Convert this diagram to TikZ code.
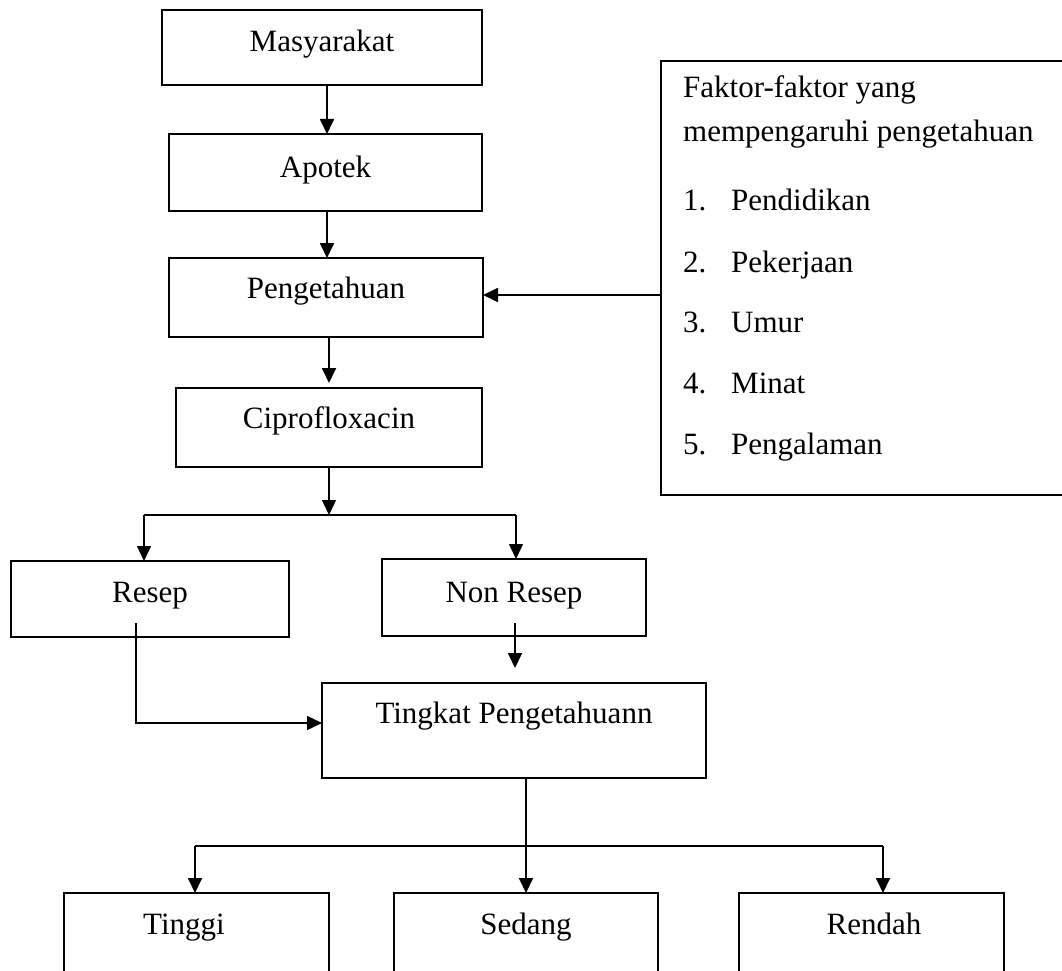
\documentclass[tikz,border=0pt]{standalone}
\usepackage{fontspec}
\setmainfont{Liberation Serif}
\usetikzlibrary{arrows.meta}
\begin{document}
\begin{tikzpicture}[x=1pt,y=-1pt,
  font=\fontsize{31}{37}\selectfont,
  box/.style={draw,line width=2.6pt,inner xsep=0pt,inner ysep=0pt,outer sep=0pt,anchor=north},
  conn/.style={line width=1.8pt,-{Triangle[width=14pt,length=15pt]}},
  thinconn/.style={line width=1.4pt,-{Triangle[width=14pt,length=15pt]}},
  thinline/.style={line width=1.4pt},
  midline/.style={line width=1.8pt},
  txt/.style={anchor=base west,inner sep=0pt}]
\useasboundingbox (0,0) rectangle (1062,971);

% boxes
\node[box,minimum width=320pt,text height=42pt,text depth=33pt] (mas) at (322,10) {Masyarakat};
\node[box,minimum width=313pt,text height=43pt,text depth=34pt] (apo) at (325.5,134) {Apotek};
\node[box,minimum width=314pt,text height=40pt,text depth=39pt] (pen) at (326,258) {Pengetahuan};
\node[box,minimum width=306pt,text height=40pt,text depth=39pt] (cip) at (329,388) {Ciprofloxacin};
\node[box,minimum width=278pt,text height=41pt,text depth=35pt] (res) at (150,561) {Resep};
\node[box,minimum width=264pt,text height=43pt,text depth=34pt] (non) at (514,559) {Non Resep};
\node[box,minimum width=384pt,text height=40pt,text depth=55pt] (tin) at (514,683) {Tingkat Pengetahuann};
\node[box,minimum width=265pt,text height=41pt,text depth=50pt] (tg) at (196.5,893) {Tinggi\hspace*{25pt}};
\node[box,minimum width=264pt,text height=41pt,text depth=50pt] (sd) at (526,893) {Sedang};
\node[box,minimum width=265pt,text height=41pt,text depth=50pt] (rd) at (871.5,893) {\hspace*{5pt}Rendah};

% factor box
\node[box,anchor=north west,minimum width=420pt,minimum height=434pt] (fak) at (661,61) {};
\node[txt] (f1) at (683,98) {Faktor-faktor yang};
\node[txt] (f2) at (683,142) {mempengaruhi pengetahuan};
\node[txt] (n1) at (683,210) {1.};
\node[txt] (i1) at (731,210) {Pendidikan};
\node[txt] (n2) at (683,272) {2.};
\node[txt] (i2) at (731,272) {Pekerjaan};
\node[txt] (n3) at (683,332) {3.};
\node[txt] (i3) at (731,332) {Umur};
\node[txt] (n4) at (683,393) {4.};
\node[txt] (i4) at (731,393) {Minat};
\node[txt] (n5) at (683,454) {5.};
\node[txt] (i5) at (731,454) {Pengalaman};

% connectors
\draw[conn] ([xshift=5pt]mas.south) -- ([xshift=1.5pt]apo.north);
\draw[conn] ([xshift=1.5pt]apo.south) -- ([xshift=1pt]pen.north);
\draw[conn] (pen.south -| cip.north) -- ([yshift=5pt]cip.north);
\draw[conn] ([yshift=2.5pt]pen.east -| fak.west) -- ([yshift=2.5pt]pen.east);

\coordinate (s0) at (329,515);
\coordinate (sL) at (144,515);
\coordinate (sR) at (516,515);
\draw[thinconn] (cip.south) -- (s0);
\draw[thinline] (sL) -- (sR);
\draw[thinconn] (sL) -- (sL |- res.north);
\draw[thinconn] (sR) -- (sR |- non.north);

\coordinate (r0) at (136,623);
\coordinate (r1) at (136,723);
\draw[thinconn] (r0) -- (r1) -- (r1 -| tin.west);

\coordinate (q0) at (515,623);
\coordinate (q1) at (515,668);
\draw[conn] (q0) -- (q1);

\coordinate (bL) at (195,846);
\coordinate (bR) at (883,846);
\draw[conn] (tin.south -| sd.north) -- (sd.north);
\draw[midline] (bL) -- (bR);
\draw[conn] (bL) -- (bL |- tg.north);
\draw[conn] (bR) -- (bR |- rd.north);
\end{tikzpicture}
\end{document}
